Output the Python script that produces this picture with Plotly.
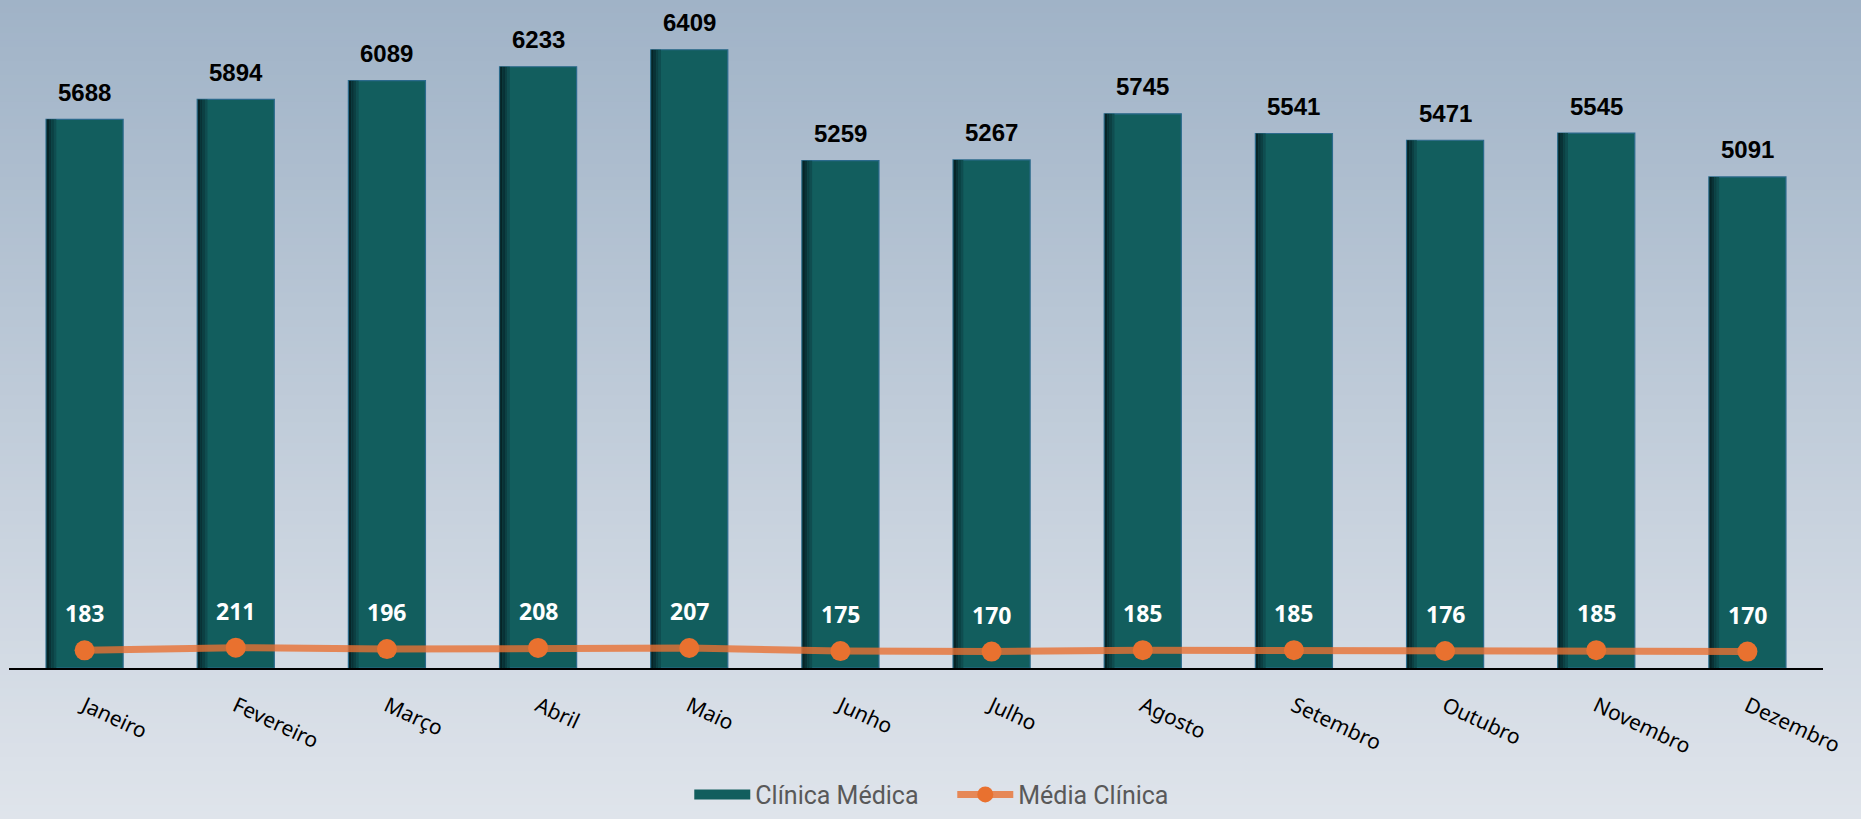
import plotly.graph_objects as go

# dados mensais
meses = ["Janeiro", "Fevereiro", "Março", "Abril", "Maio", "Junho",
         "Julho", "Agosto", "Setembro", "Outubro", "Novembro", "Dezembro"]
clinica_medica = [5688, 5894, 6089, 6233, 6409, 5259, 5267, 5745, 5541, 5471, 5545, 5091]
media_clinica = [183, 211, 196, 208, 207, 175, 170, 185, 185, 176, 185, 170]

BAR_W = 0.51
TEAL = "#125e5e"
fig = go.Figure()

fig.add_trace(go.Bar(
    x=meses, y=clinica_medica, name="Clínica Médica", width=BAR_W, showlegend=False,
    marker=dict(color=TEAL, line=dict(color="#2b6a8c", width=1.2)),
))

# sombreamento na borda esquerda das barras
shade = ["#062427", "#093236", "#0c4043", "#0f4d50"]
sw = 0.016
for i, c in enumerate(shade):
    fig.add_trace(go.Bar(
        x=meses, y=clinica_medica, width=sw, offset=-BAR_W / 2 + 0.004 + i * sw,
        marker=dict(color=c, line=dict(width=0)), showlegend=False, hoverinfo="skip",
    ))

# entrada de legenda em formato retangular para as barras
fig.add_trace(go.Scatter(
    x=[None], y=[None], name="Clínica Médica", mode="lines",
    line=dict(color=TEAL, width=12), hoverinfo="skip",
))

fig.add_trace(go.Scatter(
    x=meses, y=media_clinica, name="Média Clínica", mode="lines+markers",
    line=dict(color="rgba(233,113,50,0.8)", width=7),
    marker=dict(color="#e9712f", size=20),
))

annotations = []
for m, v in zip(meses, clinica_medica):
    annotations.append(dict(x=m, y=v, text=str(v), showarrow=False, yshift=27,
                            font=dict(family="Liberation Sans", size=24, color="black", weight="bold")))
for m, v in zip(meses, media_clinica):
    annotations.append(dict(x=m, y=v, text=str(v), showarrow=False, yshift=37,
                            font=dict(family="Noto Sans", size=23, color="white", weight="bold")))

# fundo em degradê
H_PLOT = 668
top, bot = (160, 179, 199), (223, 228, 235)
n = 120
y_top, y_bot = 1.0, -151 / H_PLOT
shapes = []
for i in range(n):
    t = i / (n - 1)
    col = tuple(round(top[k] + (bot[k] - top[k]) * t) for k in range(3))
    y0 = y_top + (y_bot - y_top) * i / n
    y1 = y_top + (y_bot - y_top) * (i + 1.05) / n
    shapes.append(dict(type="rect", xref="paper", yref="paper", x0=-0.02, x1=1.03,
                       y0=y0 + 0.001, y1=y1, layer="below", line=dict(width=0),
                       fillcolor="rgb(%d,%d,%d)" % col))

fig.update_layout(
    width=1861, height=819,
    margin=dict(l=9, r=38, t=0, b=151),
    barmode="overlay",
    paper_bgcolor="#dfe4eb", plot_bgcolor="rgba(0,0,0,0)",
    shapes=shapes, annotations=annotations,
    xaxis=dict(showline=True, linecolor="black", linewidth=1.5, tickangle=25,
               range=[-0.5, 11.5], ticklabelstandoff=16, showgrid=False,
               tickfont=dict(family="Noto Sans", size=21, color="black")),
    yaxis=dict(visible=False, range=[0, 6925]),
    legend=dict(orientation="h", x=0.52, xanchor="center", y=-151 / H_PLOT + 0.002,
                yanchor="bottom", bgcolor="rgba(0,0,0,0)", itemwidth=56, entrywidth=192,
                font=dict(family="Roboto", size=25, color="#595959")),
)

fig.write_html("out.html", config={"displayModeBar": False},
               post_script="document.body.style.margin='0';")
